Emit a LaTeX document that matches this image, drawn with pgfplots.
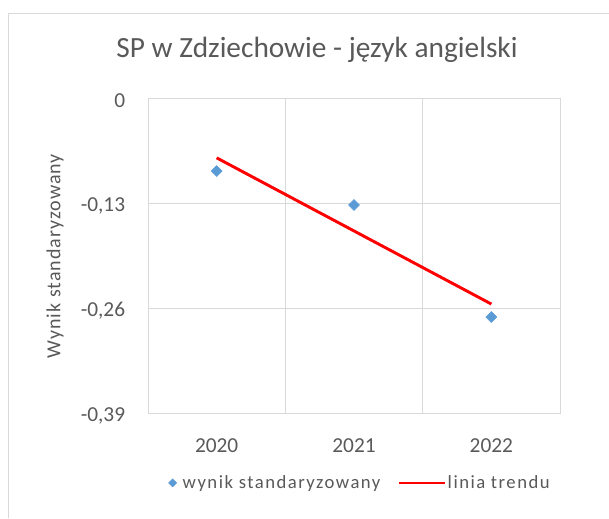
\documentclass[border=0pt]{standalone}
\usepackage{fontspec}
\setmainfont{Carlito}
\usepackage{pgfplots}
\pgfplotsset{compat=1.18}
\definecolor{gridgray}{HTML}{D9D9D9}
\definecolor{txtgray}{HTML}{595959}
\definecolor{ptblue}{HTML}{5B9BD5}
\begin{document}
\begin{tikzpicture}[x=0.75pt,y=0.75pt]
\useasboundingbox (0,0) rectangle (609,518);
% chart frame
\draw[gridgray, line width=0.75pt] (8,0) -- (8,504) -- (609,504);
% title
\node[txtgray, font=\fontsize{22}{26}\selectfont] at (317,468) {SP w Zdziechowie - język angielski};
% y label
\node[txtgray, rotate=90, font=\fontsize{15}{18}\selectfont\addfontfeature{LetterSpace=5}] at (55,262) {Wynik standaryzowany};
\begin{axis}[
    at={(111pt,78.75pt)}, anchor=south west,
    scale only axis,
    width=309pt, height=236.25pt,
    xmin=2019.5, xmax=2022.5,
    ymin=-0.39, ymax=0,
    xtick={2020,2021,2022},
    xticklabels={2020,2021,2022},
    minor xtick={2020.5,2021.5},
    ytick={-0.39,-0.26,-0.13,0},
    yticklabels={{-0,39},{-0,26},{-0,13},0},
    major tick length=0pt, minor tick length=0pt,
    xminorgrids=true, ymajorgrids=true,
    grid style={gridgray, line width=0.75pt},
    minor grid style={gridgray, line width=0.75pt},
    axis line style={gridgray, line width=0.75pt},
    tick label style={txtgray, font=\fontsize{16}{18}\selectfont},
    yticklabel style={inner sep=0pt, xshift=-17pt, yshift=-2pt},
    xticklabel style={inner sep=0pt, yshift=-19pt},
    legend style={at={(0.515,-0.222)}, anchor=center, draw=none,
        legend columns=2, font=\fontsize{14}{16}\selectfont\addfontfeature{LetterSpace=8}, text=txtgray,
        nodes={inner sep=1.5pt},
        /tikz/every even column/.append style={column sep=12pt}},
    legend image code/.code={},
    clip=false,
]
\addplot[only marks, mark=square*, mark size=2.9pt, color=ptblue,
    mark options={rotate=45}, forget plot]
    coordinates {(2020,-0.0904) (2021,-0.1325) (2022,-0.2712)};
\addlegendimage{only marks, mark=square*, mark size=2.1pt, color=ptblue, mark options={rotate=45},
    legend image code/.code={\path[draw=none] (0pt,0pt) -- (8pt,0pt); \draw plot coordinates {(2pt,0pt)};}}
\addlegendentry{wynik standaryzowany}
\addplot[red, line width=2.2pt, forget plot]
    coordinates {(2020,-0.0741) (2022,-0.2551)};
\addlegendimage{red, line width=1.5pt,
    legend image code/.code={\draw (0pt,0pt) -- (34pt,0pt);}}
\addlegendentry{linia trendu}
\end{axis}
\end{tikzpicture}
\end{document}
